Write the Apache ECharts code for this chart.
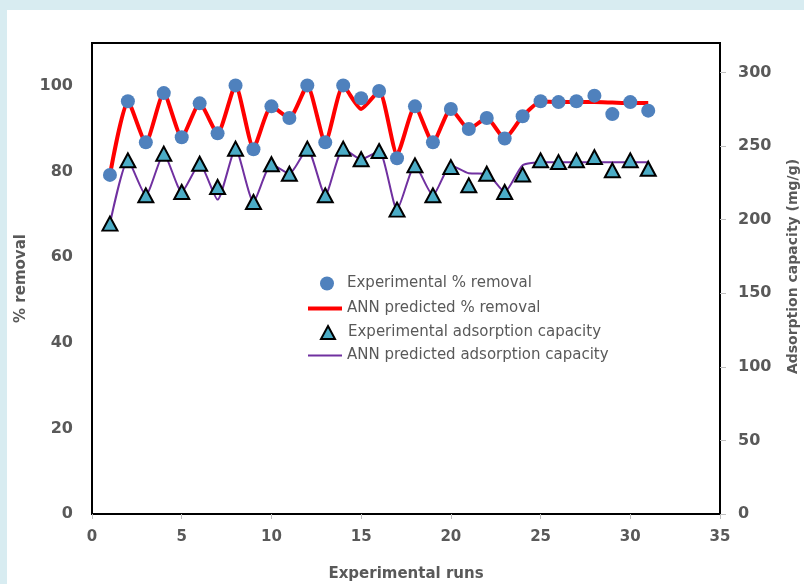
<!DOCTYPE html>
<html>
<head>
<meta charset="utf-8">
<script src="https://cdn.jsdelivr.net/npm/echarts@6/dist/echarts.min.js"></script>
<style>
html,body{margin:0;padding:0;background:#fff;}
#frame{position:absolute;left:0;top:0;width:804px;height:584px;background:#d8ecf1;}
#chart{position:absolute;left:7px;top:10px;width:797px;height:574px;background:#fff;}
</style>
</head>
<body>
<div id="frame"></div>
<div id="chart"></div>
<script>
const runs = [1,2,3,4,5,6,7,8,9,10,11,12,13,14,15,16,17,18,19,20,21,22,23,24,25,26,27,28,29,30,31];
const expRemoval = [79.2,96.4,86.8,98.3,88.0,95.9,88.9,100.1,85.2,95.2,92.5,100.1,86.8,100.1,97.1,98.8,83.1,95.2,86.8,94.6,89.9,92.5,87.7,92.9,96.4,96.2,96.4,97.7,93.4,96.2,94.2];
const annRemoval = [79.2,96.4,86.8,98.3,88.0,95.9,88.9,100.1,85.5,95.2,92.5,100.0,86.8,100.0,94.6,98.8,84.0,95.2,86.8,94.6,89.9,92.5,87.7,92.9,96.3,96.2,96.2,96.2,96.1,96.0,96.0];
const expCapacity = [197.3,240.3,216.5,244.8,218.8,238.0,222.2,248.2,212.0,237.6,231.2,248.2,216.5,248.2,241.0,246.6,206.8,236.9,216.5,235.7,223.3,231.2,218.8,230.6,240.3,239.1,240.3,242.5,233.5,240.3,234.6];
const annCapacity = [197.3,240.3,216.5,244.8,218.8,238.0,213.6,248.2,212.0,237.6,231.2,248.2,216.5,248.2,241.0,246.6,206.8,236.9,216.5,237.0,231.5,231.2,218.8,237.0,239.0,239.0,239.0,239.0,239.0,239.0,239.0];
const xTicks = {min:0, max:35, interval:5};
const leftTicks = {min:0, max:110, interval:20};
const rightTicks = {min:0, max:320, interval:50};
const seriesNames = ['Experimental % removal','ANN predicted % removal','Experimental adsorption capacity','ANN predicted adsorption capacity'];

const pair = (xs, ys) => xs.map((x,i)=>[x, ys[i]]);
const FONT = 'DejaVu Sans';
const GRAY = '#595959';

function legendRow(name, icon, left, top, w, h, padLeft) {
  return {
    orient:'vertical', left:left, top:top, padding:0,
    itemWidth:w, itemHeight:h, symbolKeepAspect:false, selectedMode:false,
    textStyle:{fontFamily:FONT, fontSize:15, color:GRAY, padding:[0,0,0,padLeft]},
    data:[{name:name, icon:icon}]
  };
}

const chart = echarts.init(document.getElementById('chart'), null, {renderer:'canvas'});
chart.setOption({
  animation:false,
  textStyle:{fontFamily:FONT},
  grid:{left:85, right:84, top:33, bottom:70, containLabel:false, outerBoundsMode:'none',
        show:true, borderColor:'#000', borderWidth:2, backgroundColor:'transparent'},
  legend:[
    legendRow(seriesNames[0], 'circle', 313, 266, 14, 14, 8),
    legendRow(seriesNames[1], 'rect', 301, 291, 34, 4, 0),
    legendRow(seriesNames[2], 'triangle', 313, 315, 14, 13, 8),
    legendRow(seriesNames[3], 'rect', 301, 338, 34, 2, 0)
  ],
  xAxis:{
    type:'value', min:xTicks.min, max:xTicks.max, interval:xTicks.interval,
    name:'Experimental runs', nameLocation:'middle', nameGap:53,
    nameTextStyle:{fontFamily:FONT, fontSize:15, fontWeight:'bold', color:GRAY},
    axisLine:{show:true, lineStyle:{color:'#000', width:2}},
    axisTick:{show:true, length:5, lineStyle:{color:'#bfbfbf'}},
    axisLabel:{fontFamily:FONT, fontSize:15, fontWeight:'bold', color:GRAY, margin:16},
    splitLine:{show:false}
  },
  yAxis:[{
    type:'value', min:leftTicks.min, max:leftTicks.max, interval:leftTicks.interval,
    name:'% removal', nameLocation:'middle', nameGap:62,
    nameTextStyle:{fontFamily:FONT, fontSize:15, fontWeight:'bold', color:GRAY},
    axisLine:{show:true, lineStyle:{color:'#000', width:2}},
    axisTick:{show:false},
    axisLabel:{fontFamily:FONT, fontSize:16, fontWeight:'bold', color:GRAY, margin:19, showMaxLabel:false},
    splitLine:{show:false}
  },{
    type:'value', position:'right', min:rightTicks.min, max:rightTicks.max, interval:rightTicks.interval,
    name:'Adsorption capacity (mg/g)', nameLocation:'middle', nameGap:66,
    nameTextStyle:{fontFamily:FONT, fontSize:14, fontWeight:'bold', color:GRAY, padding:[0,0,0,24]},
    axisLine:{show:true, lineStyle:{color:'#000', width:2}},
    axisTick:{show:true, length:6, lineStyle:{color:'#bfbfbf'}, customValues:[0,50,100,150,200,250,300]},
    axisLabel:{fontFamily:FONT, fontSize:16, fontWeight:'bold', color:GRAY, margin:18, showMaxLabel:false},
    splitLine:{show:false}
  }],
  series:[{
    name:seriesNames[0], type:'scatter', yAxisIndex:0, z:4,
    symbol:'circle', symbolSize:14,
    itemStyle:{color:'#4f81bd', opacity:1},
    data:pair(runs, expRemoval)
  },{
    name:seriesNames[1], type:'line', yAxisIndex:0, z:2,
    symbol:'none', smooth:0.2,
    lineStyle:{color:'#ff0000', width:4},
    itemStyle:{color:'#ff0000'},
    data:pair(runs, annRemoval)
  },{
    name:seriesNames[2], type:'scatter', yAxisIndex:1, z:4,
    symbol:'triangle', symbolSize:[15,14],
    itemStyle:{color:'#4bacc6', borderColor:'#000', borderWidth:2, opacity:1},
    data:pair(runs, expCapacity)
  },{
    name:seriesNames[3], type:'line', yAxisIndex:1, z:3,
    symbol:'none', smooth:0.2,
    lineStyle:{color:'#7030a0', width:2},
    itemStyle:{color:'#7030a0'},
    data:pair(runs, annCapacity)
  }]
});
</script>
</body>
</html>
